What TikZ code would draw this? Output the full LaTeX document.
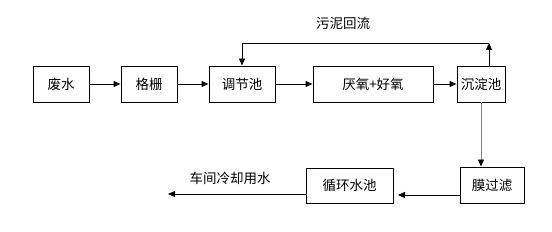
\documentclass[tikz,border=0pt]{standalone}
\usepackage{fontspec}
\setmainfont{Noto Sans CJK SC}
\usetikzlibrary{arrows.meta}
\begin{document}
\begin{tikzpicture}[x=1pt,y=-1pt,
  blk/.style={draw,line width=0.9pt,inner sep=0pt,font=\fontsize{13.5}{15}\selectfont},
  flow/.style={line width=0.9pt,-{Triangle[length=7pt,width=6pt]}},
  lbl/.style={font=\fontsize{13.5}{15}\selectfont}]
\useasboundingbox (0,0) rectangle (552,232);
\node[blk,minimum width=56pt,minimum height=36pt] (fs) at (61,84) {废水};
\node[blk,minimum width=56pt,minimum height=36pt] (gs) at (149,84) {格栅};
\node[blk,minimum width=66pt,minimum height=36pt] (tj) at (242,84) {调节池};
\node[blk,minimum width=120pt,minimum height=36pt] (yy) at (373,84) {厌氧+好氧};
\node[blk,minimum width=48pt,minimum height=36pt] (cd) at (481,84) {沉淀池};
\node[blk,minimum width=64pt,minimum height=36pt] (mg) at (492,185) {膜过滤};
\node[blk,minimum width=87pt,minimum height=35pt] (xh) at (349.5,185.5) {循环水池};
\coordinate (top) at (489,43);
\coordinate (tl) at (242,43);
\coordinate (out) at (168,194);
\coordinate (xhin) at (398,195);
\node[lbl] (lb1) at (343,23) {污泥回流};
\node[lbl] (lb2) at (230,178) {车间冷却用水};
\draw[flow] (fs.east) -- (gs.west);
\draw[flow] (gs.east) -- (tj.west);
\draw[flow] (tj.east) -- (yy.west);
\draw[flow] (yy.east) -- (cd.west);
\draw[flow] (cd.north -| top) -- (top);
\draw[flow] (top) -- (tl) -- (tj.north);
\draw[line width=0.9pt,gray,-{Triangle[length=7pt,width=6pt,color=black]}] (cd.south) -- (cd.south |- mg.north);
\draw[flow] (mg.west |- xhin) -- (xhin);
\draw[flow] (xh.west |- out) -- (out);
\end{tikzpicture}
\end{document}
